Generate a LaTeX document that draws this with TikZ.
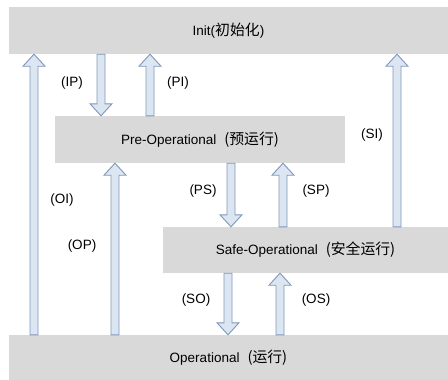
\documentclass[tikz,border=0pt]{standalone}
\usepackage{fontspec}
\setmainfont{Liberation Sans}
\newfontfamily\cjk[Scale=1.1]{Noto Sans CJK SC}
\usetikzlibrary{calc}
\definecolor{boxgray}{HTML}{D9D9D9}
\definecolor{arrfill}{HTML}{DCE6F2}
\definecolor{arrline}{HTML}{7F97B8}
\tikzset{
  statebox/.style={rectangle, fill=boxgray, draw=none, inner sep=0pt, font=\fontsize{13.5}{15}\selectfont},
  barr/.style={fill=arrfill, draw=arrline, line width=0.9pt, line join=miter},
  lbl/.style={inner sep=0pt, font=\fontsize{13.5}{15}\selectfont}
}
\newcommand\barrow[2]{%
  \filldraw[barr] let \p1=(#1), \p2=(#2), \n1={ifthenelse(\y2>\y1,1,-1)} in
    (\x1-4pt,\y1) -- (\x1-4pt,\y2-\n1*12pt) -- (\x1-11pt,\y2-\n1*12pt) -- (\x1,\y2)
    -- (\x1+11pt,\y2-\n1*12pt) -- (\x1+4pt,\y2-\n1*12pt) -- (\x1+4pt,\y1) -- cycle;}
\begin{document}
\begin{tikzpicture}[x=1pt,y=-1pt]
\useasboundingbox (0,0) rectangle (448,380);
\fill[white] (0,0) rectangle (448,380);
\node[statebox, minimum width=439pt, minimum height=47pt] (init) at (228.5,30.5) {Init({\cjk 初始化})};
\node[statebox, minimum width=290pt, minimum height=47pt] (pre) at (200,139.5) {Pre-Operational\hspace{8pt}{\cjk (预运行)}};
\node[statebox, minimum width=285pt, minimum height=46pt] (safe) at (305.5,250) {Safe-Operational\hspace{8pt}{\cjk (安全运行)}};
\node[statebox, minimum width=439pt, minimum height=45pt] (op) at (228.5,357.5) {Operational\hspace{8pt}{\cjk (运行)}};
% arrows
\barrow{op.north -| 34,0}{init.south -| 34,0}
\barrow{init.south -| 101,0}{pre.north -| 101,0}
\barrow{pre.north -| 150,0}{init.south -| 150,0}
\barrow{safe.north -| 397,0}{init.south -| 397,0}
\barrow{op.north -| 115,0}{pre.south -| 115,0}
\barrow{pre.south -| 231,0}{safe.north -| 231,0}
\barrow{safe.north -| 283,0}{pre.south -| 283,0}
\barrow{safe.south -| 228,0}{op.north -| 228,0}
\barrow{op.north -| 280,0}{safe.south -| 280,0}
% labels
\node[lbl] (lIP) at (72,83) {(IP)};
\node[lbl] (lPI) at (178,83) {(PI)};
\node[lbl] (lSI) at (372,135) {(SI)};
\node[lbl] (lOI) at (62,200) {(OI)};
\node[lbl] (lOP) at (82,246) {(OP)};
\node[lbl] (lPS) at (203,191) {(PS)};
\node[lbl] (lSP) at (316,191) {(SP)};
\node[lbl] (lSO) at (196,300) {(SO)};
\node[lbl] (lOS) at (316,300) {(OS)};
\end{tikzpicture}
\end{document}
